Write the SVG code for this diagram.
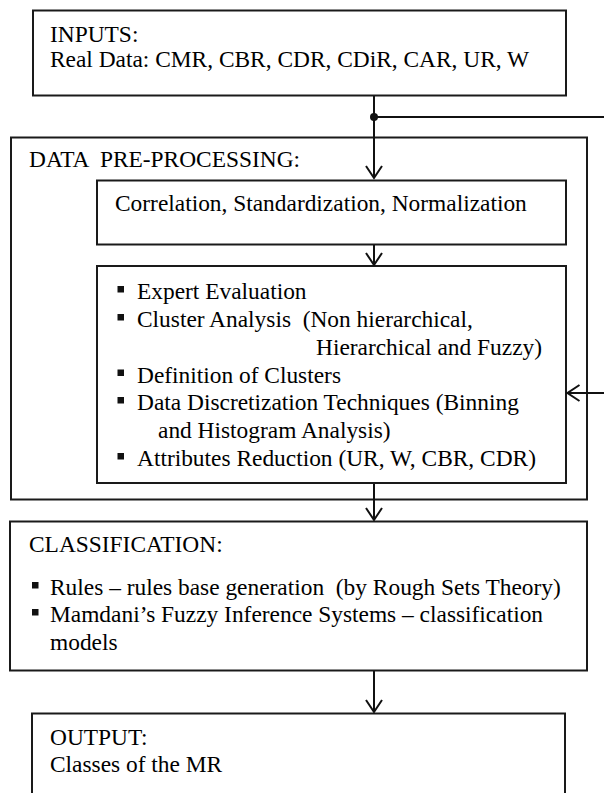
<svg xmlns="http://www.w3.org/2000/svg" width="604" height="793" viewBox="0 0 604 793">
  <style>
    .box { fill: #ffffff; stroke: #1a1a1a; stroke-width: 2; }
    .wire { fill: none; stroke: #111111; stroke-width: 2; }
    .t { font-family: "Liberation Serif", "Times New Roman", serif; font-size: 23.4px; fill: #000000; white-space: pre; }
    .bul { fill: #111111; }
  </style>
  <defs>
    <marker id="open-arrow" viewBox="0 0 20 20" refX="18" refY="10" markerWidth="20" markerHeight="20" markerUnits="userSpaceOnUse" orient="auto">
      <path d="M6,2 L18,10 L6,18" fill="none" stroke="#111111" stroke-width="2"/>
    </marker>
    <rect id="sq" width="6.5" height="6.5"/>
  </defs>

  <rect width="604" height="793" fill="#ffffff"/>

  <!-- Inputs -->
  <g id="inputs">
    <rect class="box" x="33" y="10.5" width="533" height="85"/>
    <text class="t" x="50" y="42">INPUTS:</text>
    <text class="t" x="50" y="67">Real Data: CMR, CBR, CDR, CDiR, CAR, UR, W</text>
  </g>

  <!-- Data pre-processing (outer frame) -->
  <g id="preprocessing">
    <rect class="box" x="11" y="137.5" width="576" height="362"/>
    <text class="t" x="29" y="167">DATA  PRE-PROCESSING:</text>
  </g>

  <g id="transform-step">
    <rect class="box" x="97" y="180.5" width="469" height="64"/>
    <text class="t" x="115" y="211">Correlation, Standardization, Normalization</text>
  </g>

  <g id="analysis-step">
    <rect class="box" x="97" y="266" width="469" height="217"/>
    <use href="#sq" class="bul" x="117.5" y="286"/>
    <text class="t" x="137" y="299">Expert Evaluation</text>
    <use href="#sq" class="bul" x="117.5" y="314"/>
    <text class="t" x="137" y="327">Cluster Analysis  (Non hierarchical,</text>
    <text class="t" x="316" y="355">Hierarchical and Fuzzy)</text>
    <use href="#sq" class="bul" x="117.5" y="369.5"/>
    <text class="t" x="137" y="382.5">Definition of Clusters</text>
    <use href="#sq" class="bul" x="117.5" y="397"/>
    <text class="t" x="137" y="410">Data Discretization Techniques (Binning</text>
    <text class="t" x="158" y="438">and Histogram Analysis)</text>
    <use href="#sq" class="bul" x="117.5" y="453"/>
    <text class="t" x="137" y="466">Attributes Reduction (UR, W, CBR, CDR)</text>
  </g>

  <!-- Classification -->
  <g id="classification">
    <rect class="box" x="10" y="521.5" width="577" height="149"/>
    <text class="t" x="29" y="551.5">CLASSIFICATION:</text>
    <use href="#sq" class="bul" x="32" y="582"/>
    <text class="t" x="50" y="595">Rules – rules base generation  (by Rough Sets Theory)</text>
    <use href="#sq" class="bul" x="32" y="609"/>
    <text class="t" x="50" y="622">Mamdani’s Fuzzy Inference Systems – classification</text>
    <text class="t" x="50" y="650">models</text>
  </g>

  <!-- Output (open at the bottom edge of the page) -->
  <g id="output">
    <path class="box" d="M32,800 V713.5 H565 V800"/>
    <text class="t" x="50" y="745">OUTPUT:</text>
    <text class="t" x="50" y="771.5">Classes of the MR</text>
  </g>

  <!-- Connectors -->
  <g id="connectors">
    <path class="wire" d="M374,96 V178" marker-end="url(#open-arrow)"/>
    <circle cx="374" cy="117" r="4" fill="#111111"/>
    <path class="wire" d="M374,117 H604"/>
    <path class="wire" d="M374,245 V265" marker-end="url(#open-arrow)"/>
    <path class="wire" d="M374,484 V520" marker-end="url(#open-arrow)"/>
    <path class="wire" d="M374,671 V712" marker-end="url(#open-arrow)"/>
    <path class="wire" d="M604,393 H567.5" marker-end="url(#open-arrow)"/>
  </g>
</svg>
